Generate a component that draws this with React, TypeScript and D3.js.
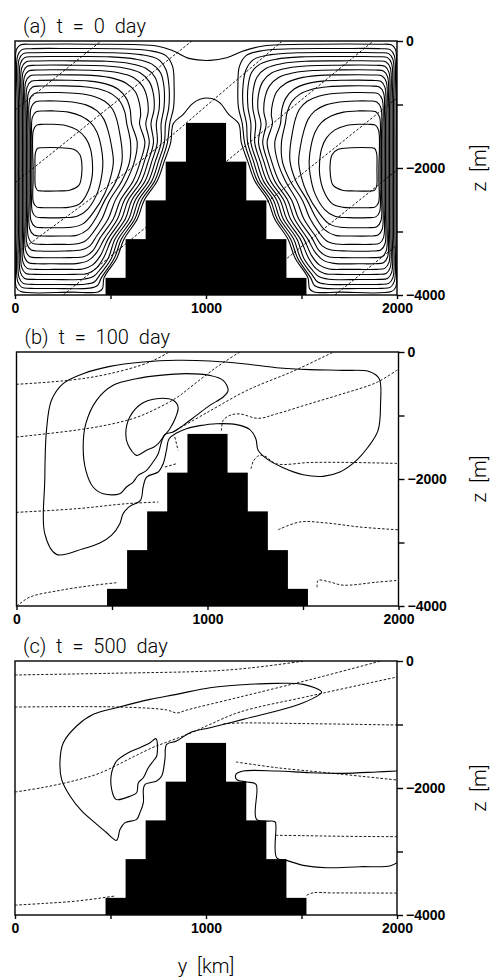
import * as d3 from "d3";
import { useEffect, useRef } from "react";

const WIDTH = 496;
const HEIGHT = 978;
const W = 382;
const H = 254;
const panelTop = [41, 352, 661];
const panelLeft = [15, 16.5, 15];

// seamount steps: [km left, km right, top depth m]
const stepLeft = [474, 579, 684, 789, 895];
const stepRight = [1526, 1421, 1316, 1211, 1105];
const stepTop = [3730, 3120, 2510, 1900, 1290];

const xTicks = [0, 500, 1000, 1500, 2000];
const xLabels = ["0", "", "1000", "", "2000"];
const yTicks = [0, 1000, 2000, 3000, 4000];
const yLabels = ["0", "", "\u22122000", "", "\u22124000"];

const titles = ["(a) t = 0 day", "(b) t = 100 day", "(c) t = 500 day"];

// ---- panel (a): points are [y km, depth m]
const aOuter = [[4,2000],[4,500],[8,130],[30,60],[100,52],[400,50],[742,79],[829,158],[916,278],[1021,305],[1108,265],[1195,158],[1300,79],[1600,50],[1900,52],[1970,60],[1992,130],[1996,500],[1996,2000],[1996,3500],[1993,3880],[1970,3945],[1700,3955],[1565,3952],[1542,3900],[1534,3730],[1467,3420],[1429,3120],[1359,2800],[1324,2510],[1255,2200],[1219,1900],[1185,1600],[1171,1300],[1120,1160],[1073,975],[1030,905],[968,917],[925,997],[881,1155],[829,1300],[815,1600],[781,1900],[745,2200],[676,2510],[641,2800],[571,3120],[533,3420],[466,3730],[458,3900],[435,3952],[300,3955],[30,3945],[7,3880],[4,3500]];

const aLeftGyre = [
  [[11,2000],[11,1000],[14,231],[36,136],[81,121],[300,118],[550,122],[700,150],[790,230],[825,400],[833,700],[830,1050],[810,1300],[798,1600],[767,1900],[732,2200],[662,2510],[628,2800],[557,3120],[520,3420],[452,3730],[432,3850],[390,3892],[200,3897],[81,3895],[36,3880],[14,3785],[11,3000]],
  [[18,2000],[18,1000],[21,294],[43,199],[88,184],[300,182],[520,186],[660,215],[750,290],[790,450],[806,700],[805,1050],[788,1300],[782,1600],[751,1900],[717,2200],[646,2510],[613,2800],[541,3120],[505,3420],[445,3680],[415,3795],[365,3830],[200,3834],[88,3832],[43,3817],[21,3722],[18,3000]],
  [[25,2000],[25,1000],[28,357],[50,262],[95,247],[300,245],[500,250],[630,285],[715,360],[762,500],[780,720],[780,1050],[765,1300],[765,1600],[734,1900],[700,2200],[629,2510],[596,2800],[524,3120],[488,3420],[448,3590],[410,3710],[355,3752],[200,3756],[95,3754],[50,3739],[28,3644],[25,3000]],
  [[32,2000],[32,1000],[35,425],[57,330],[102,315],[300,313],[480,320],[600,355],[685,430],[733,570],[753,780],[755,1060],[740,1300],[745,1600],[716,1900],[682,2200],[611,2510],[578,2800],[506,3120],[466,3400],[425,3580],[380,3660],[310,3675],[200,3677],[102,3675],[57,3660],[35,3565],[32,3000]],
  [[39,2000],[39,1100],[42,493],[64,398],[109,383],[300,381],[460,390],[570,425],[655,500],[703,640],[725,840],[728,1080],[712,1300],[725,1600],[697,1900],[662,2200],[592,2510],[558,2800],[487,3120],[447,3380],[405,3530],[355,3590],[270,3596],[200,3597],[109,3596],[64,3581],[42,3486],[39,3000]],
  [[46,2000],[46,1100],[49,567],[71,472],[116,457],[300,455],[440,465],[540,500],[620,575],[668,710],[692,900],[697,1120],[685,1300],[703,1600],[677,1900],[641,2200],[572,2510],[537,2800],[467,3120],[428,3330],[385,3455],[330,3502],[200,3508],[116,3507],[71,3492],[49,3397],[46,2900]],
  [[53,2000],[53,1200],[56,645],[78,550],[123,535],[290,533],[420,545],[510,585],[582,665],[630,800],[652,990],[658,1160],[652,1300],[680,1600],[656,1900],[619,2200],[551,2510],[515,2800],[446,3100],[408,3300],[362,3395],[290,3411],[200,3413],[123,3412],[78,3397],[56,3302],[53,2800]],
  [[60,2000],[60,1300],[63,730],[85,635],[130,620],[280,618],[390,632],[475,675],[540,760],[582,900],[603,1080],[610,1300],[640,1600],[625,1900],[585,2200],[525,2510],[488,2800],[430,3060],[390,3230],[345,3292],[260,3306],[130,3307],[85,3292],[63,3197],[60,2700]],
  [[67,2000],[67,1300],[70,819],[92,724],[137,709],[260,707],[360,720],[445,760],[510,840],[552,960],[575,1120],[585,1300],[605,1600],[600,1900],[560,2200],[495,2510],[455,2800],[410,3010],[368,3150],[318,3198],[230,3202],[137,3202],[92,3187],[70,3092],[67,2600]],
  [[74,2000],[74,1400],[77,924],[99,829],[144,814],[230,812],[330,828],[410,870],[470,950],[510,1070],[532,1230],[548,1450],[560,1700],[560,1900],[530,2200],[470,2510],[425,2780],[380,2970],[325,3058],[240,3071],[144,3071],[99,3056],[77,2961],[74,2500]],
  [[81,2000],[81,1500],[84,1055],[106,960],[151,945],[210,944],[300,960],[375,1010],[430,1100],[465,1230],[488,1420],[505,1650],[515,1900],[500,2150],[470,2400],[410,2700],[355,2880],[295,2934],[220,2940],[151,2940],[106,2925],[84,2830],[81,2400]],
  [[88,2000],[88,1600],[91,1200],[111,1115],[150,1102],[200,1101],[280,1120],[345,1180],[395,1280],[428,1430],[450,1650],[460,1900],[455,2100],[430,2400],[380,2650],[325,2760],[250,2782],[150,2782],[111,2770],[91,2690],[88,2300]],
  [[95,2000],[96,1410],[113,1325],[150,1312],[190,1311],[265,1330],[325,1400],[370,1530],[395,1700],[405,1900],[405,2100],[385,2350],[340,2560],[280,2620],[210,2625],[150,2625],[113,2612],[96,2540],[95,2200]],
  [[105,2020],[107,1760],[118,1690],[140,1681],[240,1682],[310,1710],[340,1790],[349,1900],[349,2100],[335,2270],[290,2345],[220,2362],[140,2361],[118,2352],[107,2290]],
];

const aRightGyre = [
  [[1989,2000],[1989,1000],[1986,231],[1964,136],[1919,121],[1700,118],[1450,122],[1300,150],[1210,230],[1175,400],[1167,700],[1170,1050],[1190,1300],[1202,1600],[1233,1900],[1268,2200],[1338,2510],[1372,2800],[1443,3120],[1480,3420],[1548,3730],[1568,3850],[1610,3892],[1800,3897],[1919,3895],[1964,3880],[1986,3785],[1989,3000]],
  [[1982,2000],[1982,1000],[1979,294],[1957,199],[1912,184],[1700,182],[1480,186],[1340,215],[1250,290],[1210,450],[1194,700],[1195,1050],[1212,1300],[1218,1600],[1249,1900],[1283,2200],[1354,2510],[1387,2800],[1459,3120],[1495,3420],[1555,3680],[1585,3795],[1635,3830],[1800,3834],[1912,3832],[1957,3817],[1979,3722],[1982,3000]],
  [[1975,2000],[1975,1000],[1972,357],[1950,262],[1905,247],[1700,245],[1500,250],[1370,285],[1285,360],[1238,500],[1220,720],[1220,1050],[1235,1300],[1235,1600],[1266,1900],[1300,2200],[1371,2510],[1404,2800],[1476,3120],[1512,3420],[1552,3590],[1590,3710],[1645,3752],[1800,3756],[1905,3754],[1950,3739],[1972,3644],[1975,3000]],
  [[1968,2000],[1968,1000],[1965,425],[1943,330],[1898,315],[1700,313],[1520,320],[1400,355],[1315,430],[1267,570],[1247,780],[1245,1060],[1260,1300],[1255,1600],[1284,1900],[1318,2200],[1389,2510],[1422,2800],[1494,3120],[1534,3400],[1575,3580],[1620,3660],[1690,3675],[1800,3677],[1898,3675],[1943,3660],[1965,3565],[1968,3000]],
  [[1961,2000],[1961,1100],[1958,493],[1936,398],[1891,383],[1700,381],[1540,390],[1430,425],[1345,500],[1297,640],[1275,840],[1272,1080],[1288,1300],[1275,1600],[1303,1900],[1338,2200],[1408,2510],[1442,2800],[1513,3120],[1553,3380],[1595,3530],[1645,3590],[1730,3596],[1800,3597],[1891,3596],[1936,3581],[1958,3486],[1961,3000]],
  [[1954,2000],[1954,1100],[1951,567],[1929,472],[1884,457],[1700,455],[1560,465],[1460,500],[1380,575],[1332,710],[1308,900],[1303,1120],[1315,1300],[1297,1600],[1323,1900],[1359,2200],[1428,2510],[1463,2800],[1533,3120],[1572,3330],[1615,3455],[1670,3502],[1800,3508],[1884,3507],[1929,3492],[1951,3397],[1954,2900]],
  [[1947,2000],[1947,1200],[1944,645],[1922,550],[1877,535],[1710,533],[1580,545],[1490,585],[1418,665],[1370,800],[1348,990],[1342,1160],[1348,1300],[1320,1600],[1344,1900],[1381,2200],[1449,2510],[1485,2800],[1554,3100],[1592,3300],[1638,3395],[1710,3411],[1800,3413],[1877,3412],[1922,3397],[1944,3302],[1947,2800]],
  [[1940,2000],[1940,1300],[1937,730],[1915,635],[1870,620],[1720,618],[1610,632],[1525,675],[1460,760],[1418,900],[1397,1080],[1390,1300],[1360,1600],[1375,1900],[1415,2200],[1475,2510],[1512,2800],[1570,3060],[1610,3230],[1655,3292],[1740,3306],[1870,3307],[1915,3292],[1937,3197],[1940,2700]],
  [[1933,2000],[1933,1300],[1930,819],[1908,724],[1863,709],[1740,707],[1640,720],[1555,760],[1490,840],[1448,960],[1425,1120],[1415,1300],[1395,1600],[1400,1900],[1440,2200],[1505,2510],[1545,2800],[1590,3010],[1632,3150],[1682,3198],[1770,3202],[1863,3202],[1908,3187],[1930,3092],[1933,2600]],
  [[1926,2000],[1926,1400],[1923,924],[1901,829],[1856,814],[1770,812],[1670,828],[1590,870],[1530,950],[1490,1070],[1468,1230],[1452,1450],[1440,1700],[1440,1900],[1470,2200],[1530,2510],[1575,2780],[1620,2970],[1675,3058],[1760,3071],[1856,3071],[1901,3056],[1923,2961],[1926,2500]],
  [[1919,2000],[1919,1500],[1916,1055],[1894,960],[1849,945],[1790,944],[1700,960],[1625,1010],[1570,1100],[1535,1230],[1512,1420],[1495,1650],[1485,1900],[1500,2150],[1530,2400],[1590,2700],[1645,2880],[1705,2934],[1780,2940],[1849,2940],[1894,2925],[1916,2830],[1919,2400]],
  [[1912,2000],[1912,1600],[1909,1200],[1889,1115],[1850,1102],[1800,1101],[1720,1120],[1655,1180],[1605,1280],[1572,1430],[1550,1650],[1540,1900],[1545,2100],[1570,2400],[1620,2650],[1675,2760],[1750,2782],[1850,2782],[1889,2770],[1909,2690],[1912,2300]],
  [[1905,2000],[1904,1410],[1887,1325],[1850,1312],[1810,1311],[1735,1330],[1675,1400],[1630,1530],[1605,1700],[1595,1900],[1595,2100],[1615,2350],[1660,2560],[1720,2620],[1790,2625],[1850,2625],[1887,2612],[1904,2540],[1905,2200]],
  [[1895,2020],[1893,1760],[1882,1690],[1860,1681],[1760,1682],[1690,1710],[1660,1790],[1651,1900],[1651,2100],[1665,2270],[1710,2345],[1780,2362],[1860,2361],[1882,2352],[1893,2290]],
];

const aDashed = [
  [[0,1087],[451,0]],
  [[0,2231],[926,0]],
  [[0,3360],[670,1860],[1037,930],[1400,0]],
  [[253,4000],[1876,0]],
  [[1675,4000],[2000,3213]],
  [[1425,3420],[2000,2032]],
  [[1320,2535],[2000,898]],
];

// ---- panel (b)
const bLoops = [
  [[209,3187],[148,2861],[148,2021],[157,1234],[183,761],[244,499],[349,341],[489,226],[663,158],[838,131],[1012,142],[1187,184],[1361,247],[1536,278],[1710,289],[1850,310],[1899,420],[1906,814],[1893,1234],[1841,1496],[1780,1706],[1693,1890],[1605,1958],[1501,1932],[1396,1822],[1309,1680],[1265,1549],[1253,1365],[1222,1222],[1152,1144],[1047,1129],[960,1160],[890,1208],[838,1276],[799,1365],[785,1549],[768,1759],[742,1890],[681,1969],[663,2126],[649,2336],[593,2431],[558,2546],[541,2704],[497,2888],[436,3008],[349,3098]],
  [[541,2231],[454,2231],[401,2126],[363,1864],[349,1496],[363,1129],[419,761],[506,525],[628,420],[750,368],[890,341],[1012,368],[1082,446],[1108,604],[1082,709],[1012,840],[942,998],[873,1155],[820,1260],[777,1297],[759,1418],[742,1601],[715,1733],[681,1864],[637,1943],[611,2048],[576,2126]],
  [[628,1628],[585,1470],[572,1286],[593,1024],[654,814],[733,735],[820,761],[846,866],[834,1024],[803,1208],[771,1328],[742,1444],[720,1496],[681,1549],[646,1612]],
];

const bDashed = [
  [[0,509],[288,441],[489,341],[698,158],[800,0]],
  [[0,1339],[314,1230],[489,1140],[628,1030],[733,893],[838,720],[925,520],[1047,240],[1169,0]],
  [[818,1260],[1000,950],[1211,599],[1450,300],[1660,0]],
  [[1073,1240],[1082,1076],[1117,998],[1169,975],[1265,1045],[1361,975],[1536,814],[1710,656],[1885,480],[2000,270]],
  [[0,2525],[314,2468],[576,2389],[742,2362]],
  [[0,4000],[17,3964],[70,3859],[227,3754],[401,3675],[524,3633]],
  [[1228,1840],[1240,1720],[1270,1630],[1300,1640],[1360,1760],[1536,1740],[1710,1738],[2000,1755]],
  [[1370,2800],[1483,2677],[1623,2693],[1797,2756],[2000,2800]],
  [[1574,3705],[1579,3596],[1640,3622],[1710,3672],[1885,3625],[2000,3596]],
  [[829,1339],[846,1549]],
  [[777,1811],[838,1759]],
];

// ---- panel (c)
const cLoops = [
  [[1605,488],[1509,368],[1370,352],[1195,373],[1021,420],[846,525],[707,604],[532,735],[410,840],[323,1024],[253,1286],[236,1549],[244,1864],[288,2126],[349,2362],[428,2572],[480,2704],[532,2824],[550,2651],[576,2546],[637,2494],[654,2389],[672,2231],[672,2021],[681,1943],[742,1890],[768,1811],[785,1549],[794,1313],[846,1260],[916,1129],[1021,1050],[1195,919],[1370,788],[1509,656],[1588,541]],
  [[738,1223],[742,1496],[724,1575],[698,1680],[672,1838],[646,1916],[637,2074],[606,2126],[529,2179],[506,2021],[506,1759],[532,1575],[593,1444],[654,1365],[707,1286]],
];

const cOpen = [
  [[2000,1733],[1893,1748],[1719,1769],[1544,1759],[1370,1733],[1195,1733],[1157,1785],[1160,1864],[1213,1906],[1262,1943],[1265,2494],[1361,2531],[1366,2599],[1370,3098],[1422,3140],[1509,3218],[1632,3255],[1806,3239],[1963,3229],[2000,3176]],
];

const cDashed = [
  [[0,220],[497,194],[1021,158],[1230,110],[1515,0]],
  [[0,725],[550,725],[796,772],[848,819],[900,772],[1178,567],[1550,290],[1915,0]],
  [[0,2063],[150,1990],[325,1874],[445,1764],[618,1512],[722,1360],[777,1297],[916,1139],[1021,998],[1178,803],[1544,551],[2000,252]],
  [[1091,990],[1178,976],[1500,985],[2000,1008]],
  [[1157,1590],[1370,1680],[1632,1759],[2000,1874]],
  [[1365,2745],[1500,2750],[1700,2760],[2000,2767]],
  [[1527,3690],[1560,3650],[1665,3652],[2000,3655]],
  [[0,3845],[150,3818],[323,3780],[526,3700]],
];

const panels = [
  { closed: [aOuter, ...aLeftGyre, ...aRightGyre], open: [], dashed: aDashed },
  { closed: bLoops, open: [], dashed: bDashed },
  { closed: cLoops, open: cOpen, dashed: cDashed },
];

const TICK_FONT = "'Liberation Sans', Arial, sans-serif";
const TEXT_FONT = "Roboto, 'Liberation Sans', sans-serif";

export default function App() {
  const ref = useRef<SVGSVGElement>(null);

  useEffect(() => {
    const svg = d3.select(ref.current);
    svg.selectAll("*").remove();

    const x = d3.scaleLinear().domain([0, 2000]).range([0, W]);
    const y = d3.scaleLinear().domain([0, 4000]).range([0, H]);

    const closedLine = d3
      .line<number[]>()
      .x((d) => x(d[0]))
      .y((d) => y(d[1]))
      .curve(d3.curveCatmullRomClosed.alpha(0.5));
    const openLine = d3
      .line<number[]>()
      .x((d) => x(d[0]))
      .y((d) => y(d[1]))
      .curve(d3.curveCatmullRom.alpha(0.5));

    const label = (sel) =>
      sel
        .attr("font-family", TEXT_FONT)
        .attr("font-weight", 300)
        .attr("font-size", 20)
        .attr("word-spacing", "5px")
        .attr("fill", "#000");

    panels.forEach((p, i) => {
      const g = svg
        .append("g")
        .attr("transform", `translate(${panelLeft[i]},${panelTop[i]})`);

      g.append("clipPath")
        .attr("id", `clip${i}`)
        .append("rect")
        .attr("width", W)
        .attr("height", H);

      const plot = g.append("g").attr("clip-path", `url(#clip${i})`);

      plot
        .selectAll(".dash")
        .data(p.dashed)
        .join("path")
        .attr("class", "dash")
        .attr("d", (d) => openLine(d))
        .attr("fill", "none")
        .attr("stroke", "#000")
        .attr("stroke-width", 0.9)
        .attr("stroke-dasharray", "2.6,1.8");

      plot
        .selectAll(".loop")
        .data(p.closed)
        .join("path")
        .attr("class", "loop")
        .attr("d", (d) => closedLine(d))
        .attr("fill", "none")
        .attr("stroke", "#000")
        .attr("stroke-width", 1.1);

      plot
        .selectAll(".open")
        .data(p.open)
        .join("path")
        .attr("class", "open")
        .attr("d", (d) => openLine(d))
        .attr("fill", "none")
        .attr("stroke", "#000")
        .attr("stroke-width", 1.1);

      plot
        .selectAll(".topo")
        .data(stepTop)
        .join("rect")
        .attr("class", "topo")
        .attr("x", (d, j) => x(stepLeft[j]))
        .attr("width", (d, j) => x(stepRight[j]) - x(stepLeft[j]))
        .attr("y", (d) => y(d))
        .attr("height", (d) => y(4000) - y(d))
        .attr("fill", "#000");

      g.append("rect")
        .attr("width", W)
        .attr("height", H)
        .attr("fill", "none")
        .attr("stroke", "#000")
        .attr("stroke-width", 1.4);

      const xAxis = g
        .append("g")
        .attr("transform", `translate(0,${H})`)
        .call(
          d3
            .axisBottom(x)
            .tickValues(xTicks)
            .tickSize(4)
            .tickSizeOuter(0)
            .tickPadding(4)
            .tickFormat((d, j) => xLabels[j])
        );
      const yAxis = g
        .append("g")
        .attr("transform", `translate(${W},0)`)
        .call(
          d3
            .axisRight(y)
            .tickValues(yTicks)
            .tickSize(6)
            .tickSizeOuter(0)
            .tickPadding(3)
            .tickFormat((d, j) => yLabels[j])
        );
      [xAxis, yAxis].forEach((a) => {
        a.select(".domain").remove();
        a.attr("font-family", TICK_FONT)
          .attr("font-size", 14)
          .attr("font-weight", "bold");
        a.selectAll("line").attr("stroke-width", 1.4);
        a.selectAll("text").attr("fill", "#000");
      });

      g.append("text")
        .attr("x", 8)
        .attr("y", -8)
        .call(label)
        .text(titles[i]);

      g.append("text")
        .attr("transform", `translate(${486 - panelLeft[i]},${H / 2}) rotate(-90)`)
        .attr("text-anchor", "middle")
        .call(label)
        .text("z [m]");
    });

    svg
      .append("text")
      .attr("x", 206)
      .attr("y", 973)
      .attr("text-anchor", "middle")
      .call(label)
      .text("y [km]");
  }, []);

  return (
    <svg
      ref={ref}
      width={WIDTH}
      height={HEIGHT}
      style={{ position: "absolute", left: 0, top: 0, background: "#fff" }}
    />
  );
}
